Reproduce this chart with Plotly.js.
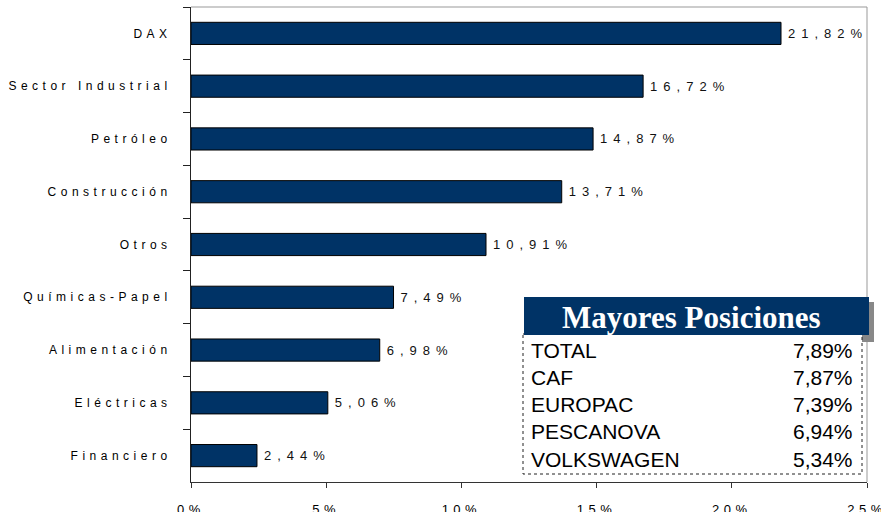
<!DOCTYPE html>
<html>
<head>
<meta charset="utf-8">
<script src="https://cdn.plot.ly/plotly-3.0.1.min.js"></script>
<style>
    body { margin: 0; background: #fff; }
    #chart { width: 881px; height: 512px; }
    /* the original chart spreads its letters out */
    .ytick text { letter-spacing: 4.5px; }
    .xtick text { letter-spacing: 4.5px; }
    .bartext { letter-spacing: 6px; }
</style>
</head>
<body>
<div id="chart"></div>
<script>
// Sector weights (%), top to bottom
const sectors = ['DAX', 'Sector Industrial', 'Petróleo', 'Construcción', 'Otros',
    'Químicas-Papel', 'Alimentación', 'Eléctricas', 'Financiero'];
const weights = [21.82, 16.72, 14.87, 13.71, 10.91, 7.49, 6.98, 5.06, 2.44];

const xTickVals = [0, 5, 10, 15, 20, 25];
const xTickText = ['0%', '5%', '10%', '15%', '20%', '25%'];

// Largest positions table
const boxTitle = 'Mayores Posiciones';
const positionNames = ['TOTAL', 'CAF', 'EUROPAC', 'PESCANOVA', 'VOLKSWAGEN'];
const positionValues = [7.89, 7.87, 7.39, 6.94, 5.34];

const navy = '#003366';
const fmt = v => v.toFixed(2).replace('.', ',') + '%';

// plot area in pixels: x 191..867, y 7..482
const W = 881, H = 512;
const mL = 191, mR = 14, mT = 7, mB = 30;
const px = x => (x - mL) / (W - mL - mR);
const py = y => (H - mB - y) / (H - mT - mB);

const bars = {
    type: 'bar',
    orientation: 'h',
    x: weights,
    y: sectors,
    width: 0.42,
    marker: { color: navy, line: { color: '#000', width: 1 } },
    text: weights.map(fmt),
    textposition: 'outside',
    constraintext: 'none',
    cliponaxis: false,
    textfont: { family: 'Liberation Sans, Arial, sans-serif', size: 13, color: '#111' },
    hoverinfo: 'none'
};

const shapes = [
    // grey frame on top and right
    { type: 'line', xref: 'paper', yref: 'paper', x0: 0, x1: 1, y0: 1, y1: 1, line: { color: '#999', width: 1 } },
    { type: 'line', xref: 'paper', yref: 'paper', x0: 1, x1: 1, y0: 0, y1: 1, line: { color: '#999', width: 1 } },
    // title shadow
    { type: 'rect', xref: 'paper', yref: 'paper', x0: px(529), x1: px(874), y0: py(302), y1: py(342),
      fillcolor: '#888', line: { width: 0 } },
    // table box
    { type: 'rect', xref: 'paper', yref: 'paper', x0: px(523), x1: px(862), y0: py(334), y1: py(474),
      fillcolor: '#fff', line: { color: '#222', width: 1, dash: 'dot' } },
    // title bar
    { type: 'rect', xref: 'paper', yref: 'paper', x0: px(524), x1: px(869), y0: py(297), y1: py(335),
      fillcolor: navy, line: { width: 0 } }
];

const annotations = [{
    xref: 'paper', yref: 'paper', x: px(691), y: py(317),
    xanchor: 'center', yanchor: 'middle', showarrow: false,
    text: '<b>' + boxTitle + '</b>',
    font: { family: 'Liberation Serif, Times New Roman, serif', size: 31, color: '#fff' }
}];

positionNames.forEach((name, i) => {
    const yy = py(350 + i * 27.3);
    annotations.push({
        xref: 'paper', yref: 'paper', x: px(529), y: yy,
        xanchor: 'left', yanchor: 'middle', showarrow: false,
        text: name, font: { family: 'Liberation Sans, Arial, sans-serif', size: 21, color: '#000' }
    });
    annotations.push({
        xref: 'paper', yref: 'paper', x: px(855), y: yy,
        xanchor: 'right', yanchor: 'middle', showarrow: false,
        text: fmt(positionValues[i]), font: { family: 'Liberation Sans, Arial, sans-serif', size: 21, color: '#000' }
    });
});

const layout = {
    width: W,
    height: H,
    margin: { l: mL, r: mR, t: mT, b: mB },
    paper_bgcolor: '#fff',
    plot_bgcolor: '#fff',
    showlegend: false,
    font: { family: 'Liberation Sans, Arial, sans-serif', size: 12, color: '#000' },
    xaxis: {
        range: [0, 25],
        tickvals: xTickVals,
        ticktext: xTickText,
        tickfont: { size: 13 },
        showgrid: false,
        zeroline: false,
        showline: true,
        linecolor: '#333',
        linewidth: 1,
        ticks: 'outside',
        ticklen: 5,
        tickcolor: '#333',
        ticklabelstandoff: 10,
        ticklabeloverflow: 'allow',
        fixedrange: true
    },
    yaxis: {
        type: 'category',
        autorange: 'reversed',
        showgrid: false,
        showline: true,
        linecolor: '#222',
        linewidth: 1,
        ticks: 'outside',
        tickson: 'boundaries',
        ticklen: 7,
        tickcolor: '#222',
        ticklabelstandoff: 16,
        fixedrange: true
    },
    shapes: shapes,
    annotations: annotations
};

Plotly.newPlot('chart', [bars], layout, { staticPlot: true }).then(() => {
    // a little more room between bar ends and their value labels
    document.querySelectorAll('.bartext').forEach(t => t.setAttribute('dx', 4));
});
</script>
</body>
</html>
